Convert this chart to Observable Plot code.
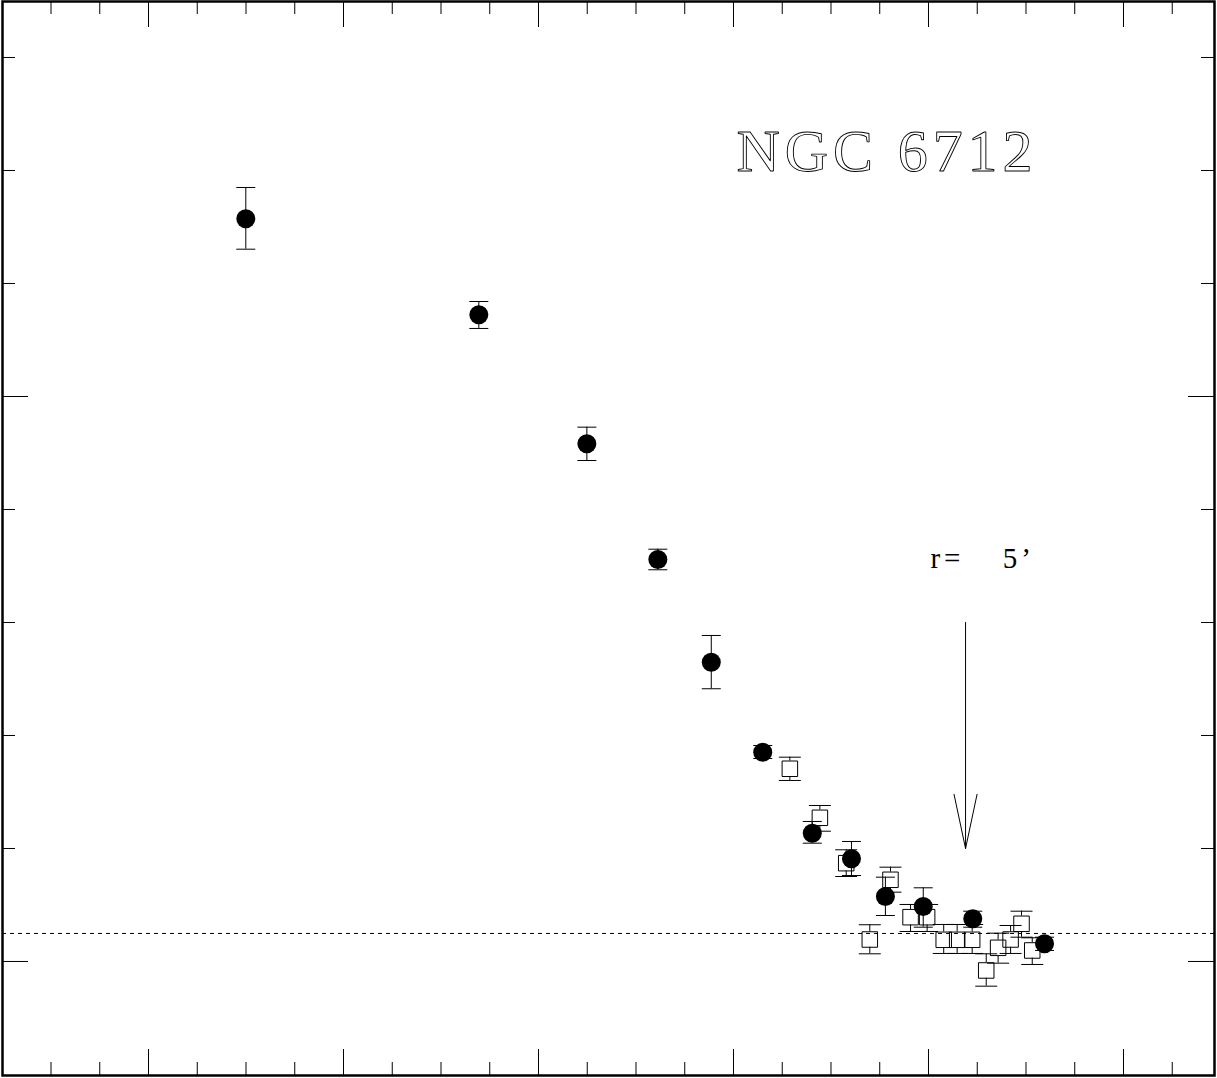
<!DOCTYPE html>
<html><head><meta charset="utf-8">
<script src="https://cdn.jsdelivr.net/npm/d3@7"></script>
<script src="https://cdn.jsdelivr.net/npm/@observablehq/plot@0.6"></script>
<style>html,body{margin:0;padding:0;background:#fff}svg{display:block}</style>
</head><body><div id="chart"></div>
<script>
// Filled circles: x, y, lower and upper error limits
const circX  = [0.499, 1.694, 2.248, 2.612, 2.886, 3.150, 3.404, 3.605, 3.779, 3.973, 4.227, 4.595];
const circY  = [1.3145, 1.1446, 0.9163, 0.7115, 0.5297, 0.3704, 0.2271, 0.1818, 0.1150, 0.0973, 0.0756, 0.0313];
const circLo = [1.2607, 1.1204, 0.8867, 0.6933, 0.4827, 0.3593, 0.2094, 0.1522, 0.0814, 0.0607, 0.0607, 0.0195];
const circHi = [1.3699, 1.1681, 0.9457, 0.7297, 0.5770, 0.3823, 0.2478, 0.2124, 0.1492, 0.1304, 0.0890, 0.0430];

// Open squares
const sqX  = [3.289, 3.443, 3.578, 3.699, 3.805, 3.908, 3.993, 4.078, 4.147, 4.224, 4.296, 4.357, 4.421, 4.477, 4.532];
const sqY  = [0.3411, 0.2543, 0.1740, 0.0389, 0.1446, 0.0784, 0.0784, 0.0384, 0.0384, 0.0384, -0.0159, 0.0242, 0.0389, 0.0667, 0.0195];
const sqLo = [0.3204, 0.2306, 0.1504, 0.0136, 0.1227, 0.0531, 0.0531, 0.0142, 0.0142, 0.0142, -0.0437, -0.0030, 0.0142, 0.0430, -0.0053];
const sqHi = [0.3616, 0.2761, 0.1977, 0.0650, 0.1669, 0.1009, 0.1009, 0.0655, 0.0655, 0.0655, 0.0136, 0.0501, 0.0637, 0.0890, 0.0419];

// Background level (dashed line)
const backgroundLevel = [0.0496];

// Annotation: arrow at r = 5'
const arrowData = [{x: 4.19, yStart: 0.6, yEnd: 0.2}];
const labelData = [
  {x: 3.015, y: 1.4324, text: "NGC 6712"},
];
const rLabel = [{x: 4.01, y: 0.7124, text: "r= 5\u2019"}];

// Tick positions
const xMajorTicks = [0, 1, 2, 3, 4, 5];
const xMinorTicks = [-0.5, -0.25, 0.25, 0.5, 0.75, 1.25, 1.5, 1.75, 2.25, 2.5, 2.75, 3.25, 3.5, 3.75, 4.25, 4.5, 4.75, 5.25];
const yMajorTicks = [0, 1];
const yMinorTicks = [0.2, 0.4, 0.6, 0.8, 1.2, 1.4, 1.6];

const circles = circX.map((x, i) => ({x, y: circY[i], lo: circLo[i], hi: circHi[i]}));
const squares = sqX.map((x, i) => ({x, y: sqY[i], lo: sqLo[i], hi: sqHi[i]}));

const W = 1217, H = 1078;
const mL = 2, mR = 3, mT = 1, mB = 3;
const iw = W - mL - mR, ih = H - mT - mB;
const minorLen = 13, majorLen = 26;
const sqHalf = 7.75;

const capSymbol = {draw(ctx, size) { const w = Math.sqrt(size / Math.PI); ctx.moveTo(-w, 0); ctx.lineTo(w, 0); }};

const svg = Plot.plot({
  width: W, height: H,
  marginLeft: mL, marginRight: mR, marginTop: mT, marginBottom: mB,
  x: {domain: [-0.74872, 5.46667], axis: null},
  y: {domain: [-0.2018, 1.6991], axis: null},
  style: {background: "white", color: "black"},
  marks: [
    Plot.ruleY(backgroundLevel, {y: d => d, stroke: "black", strokeWidth: 1, strokeDasharray: "4,4"}),
    // frame ticks
    Plot.tickX(xMinorTicks, {x: d => d, insetTop: ih - minorLen, stroke: "black"}),
    Plot.tickX(xMinorTicks, {x: d => d, insetBottom: ih - minorLen, stroke: "black"}),
    Plot.tickX(xMajorTicks, {x: d => d, insetTop: ih - majorLen, stroke: "black"}),
    Plot.tickX(xMajorTicks, {x: d => d, insetBottom: ih - majorLen, stroke: "black"}),
    Plot.tickY(yMinorTicks, {y: d => d, insetRight: iw - minorLen, stroke: "black"}),
    Plot.tickY(yMinorTicks, {y: d => d, insetLeft: iw - minorLen, stroke: "black"}),
    Plot.tickY(yMajorTicks, {y: d => d, insetRight: iw - majorLen, stroke: "black"}),
    Plot.tickY(yMajorTicks, {y: d => d, insetLeft: iw - majorLen, stroke: "black"}),
    // squares with error bars
    Plot.ruleX(squares, {x: "x", y1: "y", y2: "lo", insetTop: sqHalf, stroke: "black", strokeWidth: 1}),
    Plot.ruleX(squares, {x: "x", y1: "hi", y2: "y", insetBottom: sqHalf, stroke: "black", strokeWidth: 1}),
    Plot.dot(squares, {x: "x", y: "lo", symbol: capSymbol, r: 11, stroke: "black", fill: "none", strokeWidth: 1}),
    Plot.dot(squares, {x: "x", y: "hi", symbol: capSymbol, r: 11, stroke: "black", fill: "none", strokeWidth: 1}),
    Plot.dot(squares, {x: "x", y: "y", symbol: "square", r: 8.75, stroke: "black", fill: "none", strokeWidth: 1}),
    // circles with error bars
    Plot.ruleX(circles, {x: "x", y1: "lo", y2: "hi", stroke: "black", strokeWidth: 1}),
    Plot.dot(circles, {x: "x", y: "lo", symbol: capSymbol, r: 9.5, stroke: "black", fill: "none", strokeWidth: 1}),
    Plot.dot(circles, {x: "x", y: "hi", symbol: capSymbol, r: 9.5, stroke: "black", fill: "none", strokeWidth: 1}),
    Plot.dot(circles, {x: "x", y: "y", r: 9.5, fill: "black", stroke: "none"}),
    // arrow
    Plot.arrow(arrowData, {x1: "x", y1: "yStart", x2: "x", y2: "yEnd", headAngle: 24, headLength: 83, stroke: "black", strokeWidth: 1}),
    // labels
    Plot.text(labelData, {x: "x", y: "y", text: "text", textAnchor: "start", lineAnchor: "middle", fontSize: 60, fontFamily: "Liberation Serif", fill: "none", stroke: "black", strokeWidth: 0.9}),
    Plot.text(rLabel, {x: "x", y: "y", text: "text", textAnchor: "start", lineAnchor: "middle", fontSize: 29, fontFamily: "Liberation Serif", fill: "black"}),
    Plot.frame({stroke: "black", strokeWidth: 2.5})
  ]
});

d3.select(svg).selectAll("text").each(function() {
  const t = this.textContent;
  if (t === "NGC 6712") { this.setAttribute("textLength", 296); this.setAttribute("lengthAdjust", "spacing"); }
  if (t.startsWith("r=")) { this.style.letterSpacing = "4px"; this.style.wordSpacing = "27px"; this.style.whiteSpace = "pre"; }
});

document.getElementById("chart").appendChild(svg);
</script>
</body></html>
